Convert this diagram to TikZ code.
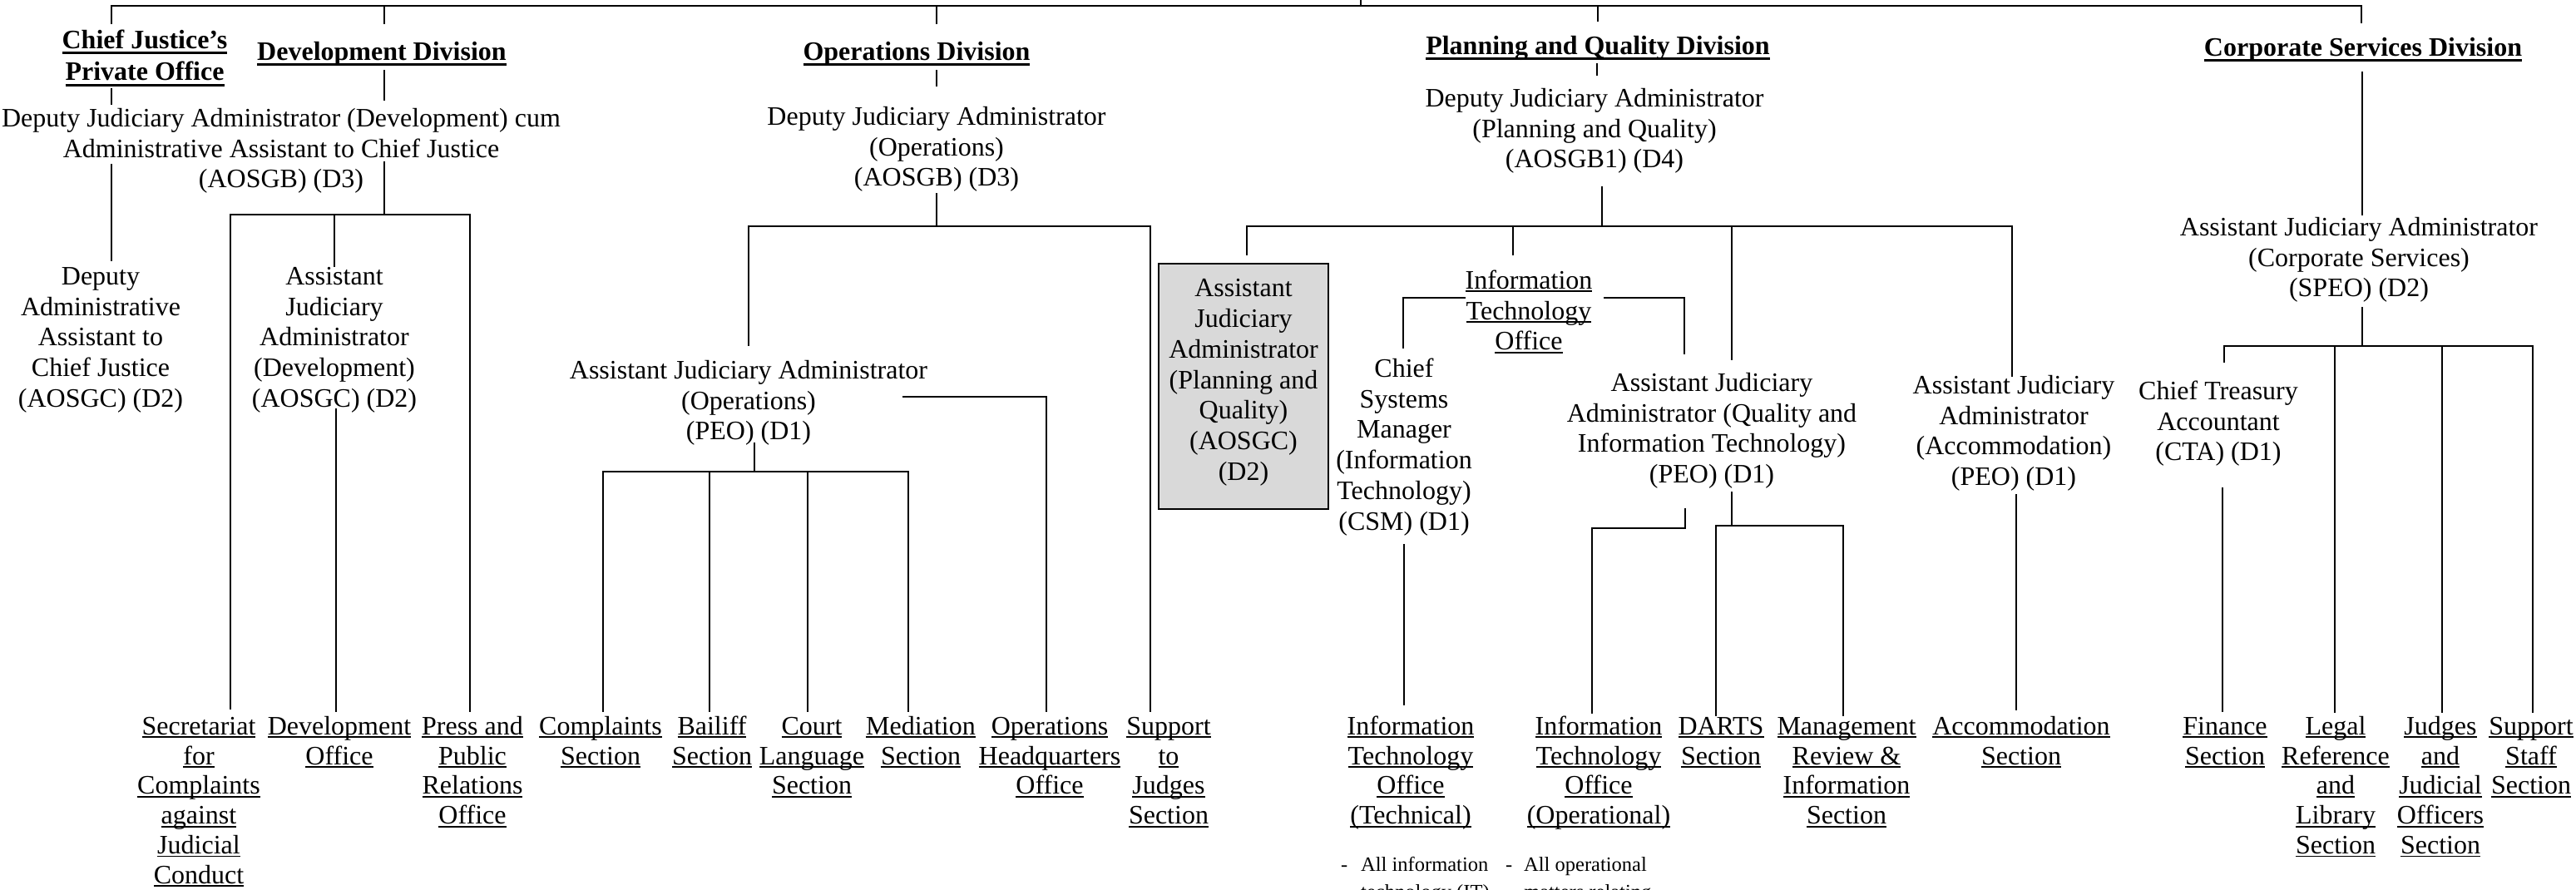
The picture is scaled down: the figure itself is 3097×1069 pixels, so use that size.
\documentclass[tikz,border=0pt]{standalone}
\usepackage{fontspec}
\setmainfont{Liberation Serif}
\newsavebox\ulbox
\newcommand\U[1]{\sbox\ulbox{#1}\rlap{\rule[-4pt]{\wd\ulbox}{1.8pt}}\usebox\ulbox}
\newcommand\UB[1]{\sbox\ulbox{#1}\rlap{\rule[-7pt]{\wd\ulbox}{3pt}}\usebox\ulbox}
\newcommand\st{\rule{0pt}{24pt}}
\newcommand\sts{\rule{0pt}{19pt}}
\newcommand\fr{\fontsize{32}{36.8}\selectfont}
\newcommand\fbt{\fontsize{32}{38.5}\selectfont\bfseries}
\newcommand\fbot{\fontsize{32}{35.8}\selectfont}
\newcommand\fsm{\fontsize{24.5}{33}\selectfont}
\tikzset{
  txt/.style={font=\fr, align=center, inner sep=0pt, anchor=north},
  ttl/.style={font=\fbt, align=center, inner sep=0pt, anchor=north},
  leaf/.style={font=\fbot, align=center, inner sep=0pt, anchor=north},
  note/.style={font=\fsm, align=left, inner sep=0pt, anchor=north west},
  ln/.style={line width=2pt, line cap=rect},
  greybox/.style={draw, line width=2pt, fill=black!15, minimum width=204pt, minimum height=295pt, inner sep=0pt, anchor=north, align=center, font=\fr}
}
\begin{document}
\begin{tikzpicture}[x=1pt,y=-1pt]
\clip (0,0) rectangle (3097,1069);
\useasboundingbox (0,0) rectangle (3097,1069);

% ---------- titles ----------
\node[ttl] (cjt)   at (174,34)  {\st\UB{Chief Justice’s}\\\UB{Private Office}};
\node[ttl] (devt)  at (459,48)  {\st\UB{Development Division}};
\node[ttl] (opst)  at (1102,48) {\st\UB{Operations Division}};
\node[ttl] (pqt)   at (1921,41) {\st\UB{Planning and Quality Division}};
\node[ttl] (corpt) at (2841,43) {\st\UB{Corporate Services Division}};

% ---------- posts ----------
\node[txt] (djadev) at (338,128) {\st Deputy Judiciary Administrator (Development) cum\\Administrative Assistant to Chief Justice\\(AOSGB) (D3)};
\node[txt] (djaops) at (1126,126) {\st Deputy Judiciary Administrator\\(Operations)\\(AOSGB) (D3)};
\node[txt] (djapq) at (1917,104) {\st Deputy Judiciary Administrator\\(Planning and Quality)\\(AOSGB1) (D4)};
\node[txt] (ajacorp) at (2836,259) {\st Assistant Judiciary Administrator\\(Corporate Services)\\(SPEO) (D2)};
\node[txt] (dajcj) at (121,318) {\st Deputy\\Administrative\\Assistant to\\Chief Justice\\(AOSGC) (D2)};
\node[txt] (ajadev) at (402,318) {\st Assistant\\Judiciary\\Administrator\\(Development)\\(AOSGC) (D2)};
\node[txt] (ajaops) at (900,431) {\st Assistant Judiciary Administrator\\(Operations)\\(PEO) (D1)};
\node[greybox] (grey) at (1495,316) {\st Assistant\\Judiciary\\Administrator\\(Planning and\\Quality)\\(AOSGC)\\(D2)\rule[-19pt]{0pt}{19pt}};
\node[txt] (ito) at (1838,323) {\st\U{Information}\\\U{Technology}\\\U{Office}};
\node[txt] (csm) at (1688,429) {\st Chief\\Systems\\Manager\\(Information\\Technology)\\(CSM) (D1)};
\node[txt] (ajaqit) at (2058,446) {\st Assistant Judiciary\\Administrator (Quality and\\Information Technology)\\(PEO) (D1)};
\node[txt] (ajaacc) at (2421,449) {\st Assistant Judiciary\\Administrator\\(Accommodation)\\(PEO) (D1)};
\node[txt] (cta) at (2667,456) {\st Chief Treasury\\Accountant\\(CTA) (D1)};

% ---------- sections ----------
\node[leaf] (sec)   at (239,859)  {\st\U{Secretariat}\\\U{for}\\\U{Complaints}\\\U{against}\\\U{Judicial}\\\U{Conduct}};
\node[leaf] (devo)  at (408,859)  {\st\U{Development}\\\U{Office}};
\node[leaf] (press) at (568,859)  {\st\U{Press and}\\\U{Public}\\\U{Relations}\\\U{Office}};
\node[leaf] (compl) at (722,859)  {\st\U{Complaints}\\\U{Section}};
\node[leaf] (bail)  at (856,859)  {\st\U{Bailiff}\\\U{Section}};
\node[leaf] (court) at (976,859)  {\st\U{Court}\\\U{Language}\\\U{Section}};
\node[leaf] (med)   at (1107,859) {\st\U{Mediation}\\\U{Section}};
\node[leaf] (opshq) at (1262,859) {\st\U{Operations}\\\U{Headquarters}\\\U{Office}};
\node[leaf] (supj)  at (1405,859) {\st\U{Support}\\\U{to}\\\U{Judges}\\\U{Section}};
\node[leaf] (itt)   at (1696,859) {\st\U{Information}\\\U{Technology}\\\U{Office}\\\U{(Technical)}};
\node[leaf] (itop)  at (1922,859) {\st\U{Information}\\\U{Technology}\\\U{Office}\\\U{(Operational)}};
\node[leaf] (darts) at (2069,859) {\st\U{DARTS}\\\U{Section}};
\node[leaf] (mgmt)  at (2220,859) {\st\U{Management}\\\U{Review \&}\\\U{Information}\\\U{Section}};
\node[leaf] (acc)   at (2430,859) {\st\U{Accommodation}\\\U{Section}};
\node[leaf] (fin)   at (2675,859) {\st\U{Finance}\\\U{Section}};
\node[leaf] (legal) at (2808,859) {\st\U{Legal}\\\U{Reference}\\\U{and}\\\U{Library}\\\U{Section}};
\node[leaf] (judg)  at (2934,859) {\st\U{Judges}\\\U{and}\\\U{Judicial}\\\U{Officers}\\\U{Section}};
\node[leaf] (supst) at (3043,859) {\st\U{Support}\\\U{Staff}\\\U{Section}};

\node[note] (bul1) at (1636,1028) {\sts\llap{-\hspace{16pt}}All information\\technology (IT)};
\node[note] (bul2) at (1832,1028) {\sts\llap{-\hspace{14pt}}All operational\\matters relating};

% ---------- connector points ----------
\foreach \n/\x/\y in {
  T0/1636/0, T1/1636/7, TL/134/7, TR/2839/7, Tdev/462/7, Tops/1126/7, Tpq/1921/7,
  cj1/134/28, dev1/462/28, ops1/1126/28, pq1/1921/25, corp1/2839/27,
  cj2/134/107, cj3/134/125, cj4/134/198, cj5/134/313,
  dv2/462/85, dv3/462/120, dv4/462/195, dv5/462/258,
  dbL/277/258, dbM/402/258, dbR/565/258, secT/277/852, dbM2/402/320, pressT/565/855,
  dv6/404/492, devoT/404/855,
  op2/1126/85, op3/1126/103, op4/1126/233, op5/1126/272,
  obL/900/272, obR/1383/272, ajaopsT/900/415, supjT/1383/855,
  op6/907/533, op7/907/567, ob2L/725/567, ob2a/853/567, ob2b/971/567, ob2R/1092/567,
  complT/725/855, bailT/853/855, courtT/971/855, medT/1092/855,
  op8/1086/477, op9/1258/477, opshqT/1258/855,
  pq2/1920/77, pq3/1920/90, pq4/1926/225, pq5/1926/272,
  pbL/1499/272, pbA/1819/272, pbB/2082/272, pbR/2419/272,
  greyT/1499/306, itoT/1819/306, ajaqitT/2082/432, accT/2419/452,
  it1/1761/358, it2/1687/358, it3/1687/418, it4/1929/358, it5/2025/358, it6/2025/425,
  csmB/1688/655, ittT/1688/847,
  q1/2026/612, q2/2026/635, q3/1914/635, itopT/1914/857,
  q4/2082/592, q5/2082/632, qbL/2063/632, qbR/2216/632, dartsT/2063/860, mgmtT/2216/860,
  acc1/2424/595, accB/2424/853,
  c2/2840/87, c3/2840/258, c4/2840/370, c5/2840/416,
  cbL/2674/416, cbA/2807/416, cbB/2936/416, cbR/3045/416,
  ctaT/2674/435, legalT/2807/856, judgT/2936/856, supstT/3045/856,
  cta1/2672/587, finT/2672/855}
  \coordinate (\n) at (\x,\y);

% ---------- connectors ----------
\foreach \a/\b in {
  TL/TR, T0/T1, TL/cj1, Tdev/dev1, Tops/ops1, Tpq/pq1, TR/corp1,
  cj2/cj3, cj4/cj5,
  dv2/dv3, dv4/dv5, dbL/dbR, dbL/secT, dbM/dbM2, dbR/pressT, dv6/devoT,
  op2/op3, op4/op5, obL/obR, obL/ajaopsT, obR/supjT,
  op6/op7, ob2L/ob2R, ob2L/complT, ob2a/bailT, ob2b/courtT, ob2R/medT,
  op8/op9, op9/opshqT,
  pq2/pq3, pq4/pq5, pbL/pbR, pbL/greyT, pbA/itoT, pbB/ajaqitT, pbR/accT,
  it1/it2, it2/it3, it4/it5, it5/it6,
  csmB/ittT,
  q1/q2, q2/q3, q3/itopT, q4/q5, qbL/qbR, qbL/dartsT, qbR/mgmtT,
  acc1/accB,
  c2/c3, c4/c5, cbL/cbR, cbL/ctaT, cbA/legalT, cbB/judgT, cbR/supstT,
  cta1/finT}
  \draw[ln] (\a) -- (\b);
\end{tikzpicture}
\end{document}
